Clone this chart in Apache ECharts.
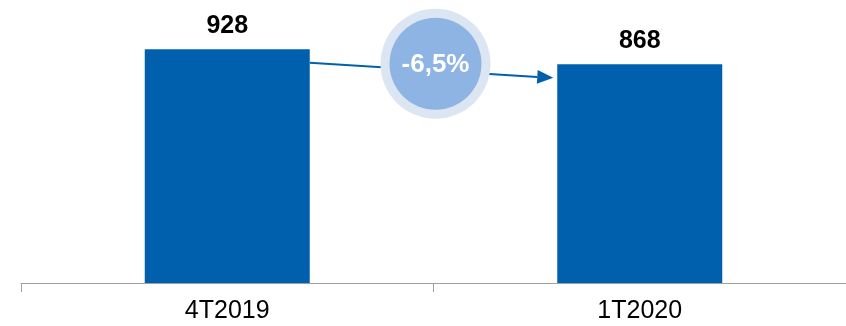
<!DOCTYPE html>
<html>
<head>
<meta charset="utf-8">
<script src="https://cdn.jsdelivr.net/npm/echarts@6/dist/echarts.min.js"></script>
<style>
  html, body { margin: 0; padding: 0; background: #fff; }
  #chart { width: 846px; height: 326px; }
</style>
</head>
<body>
<div id="chart"></div>
<script>
const categories = ['4T2019', '1T2020']
const values = [928, 868]
const changeLabel = '-6,5%'
// arrow runs from this value on the first bar to this value on the second
const arrowFrom = 874
const arrowTo = 814
const badgeValue = 870

const chart = echarts.init(document.getElementById('chart'))

const option = {
  animation: false,
  grid: { left: 21, width: 829, top: 31, bottom: 43, containLabel: false },
  xAxis: {
    type: 'category',
    data: categories,
    axisLine: { lineStyle: { color: '#a0a0a0', width: 1 } },
    axisTick: { show: true, length: 9, lineStyle: { color: '#a0a0a0' } },
    axisLabel: {
      color: '#000',
      fontFamily: 'Liberation Sans, Arial',
      fontSize: 25,
      margin: 16
    }
  },
  yAxis: {
    type: 'value',
    min: 0,
    max: 1000,
    show: false,
    splitLine: { show: false }
  },
  series: [{
    type: 'bar',
    data: values,
    barWidth: '40%',
    itemStyle: { color: '#0060ae' },
    label: {
      show: true,
      position: 'top',
      distance: 11,
      color: '#000',
      fontFamily: 'Liberation Sans, Arial',
      fontWeight: 'bold',
      fontSize: 25
    }
  }]
}

chart.setOption(option)

function drawOverlay() {
  const p0 = chart.convertToPixel({ xAxisIndex: 0, yAxisIndex: 0 }, [0, arrowFrom])
  const p1 = chart.convertToPixel({ xAxisIndex: 0, yAxisIndex: 0 }, [1, arrowTo])
  const bandW = p1[0] - p0[0]
  const halfBar = bandW * 0.4 / 2
  const x0 = p0[0] + halfBar
  const x1 = p1[0] - halfBar - 4
  const y0 = p0[1]
  const y1 = p1[1]
  const ang = Math.atan2(y1 - y0, x1 - x0)
  const headLen = 16, headW = 7
  const bx = x1 - headLen * Math.cos(ang)
  const by = y1 - headLen * Math.sin(ang)
  const nx = -Math.sin(ang) * headW
  const ny = Math.cos(ang) * headW
  const c = chart.convertToPixel({ xAxisIndex: 0, yAxisIndex: 0 }, [0, badgeValue])
  const cx = (p0[0] + p1[0]) / 2 + 2
  const cy = c[1]

  chart.setOption({
    graphic: [
      {
        type: 'line',
        shape: { x1: x0, y1: y0, x2: bx, y2: by },
        style: { stroke: '#0060ae', lineWidth: 2 }
      },
      {
        type: 'polygon',
        shape: { points: [[x1, y1], [bx + nx, by + ny], [bx - nx, by - ny]] },
        style: { fill: '#0060ae' }
      },
      {
        type: 'circle',
        shape: { cx: cx, cy: cy, r: 55 },
        style: { fill: '#dce6f2' }
      },
      {
        type: 'circle',
        shape: { cx: cx, cy: cy, r: 46 },
        style: { fill: '#8db4e2' }
      },
      {
        type: 'text',
        x: cx,
        y: cy + 1,
        style: {
          text: changeLabel,
          fill: '#fff',
          fontFamily: 'Liberation Sans, Arial',
          fontWeight: 'bold',
          fontSize: 26,
          align: 'center',
          verticalAlign: 'middle'
        }
      }
    ]
  })
}

drawOverlay()
</script>
</body>
</html>
